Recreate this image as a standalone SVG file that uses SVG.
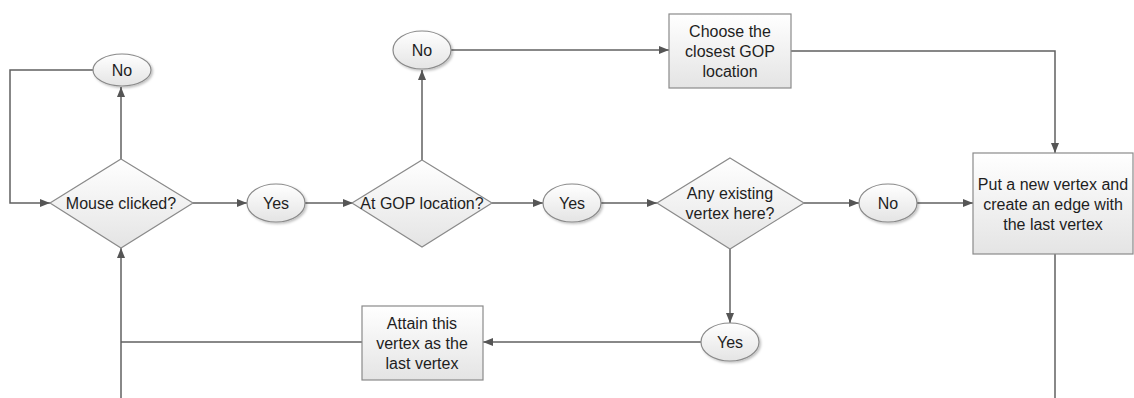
<svg xmlns="http://www.w3.org/2000/svg" width="1134" height="398" viewBox="0 0 1134 398">
  <style>
    .shape { fill: url(#fillGrad); stroke: #8a8a8a; stroke-width: 1.2; }
    .term { fill: url(#fillGrad); stroke: #8a8a8a; stroke-width: 1.2; filter: url(#shadow); }
    .label { font-family: "Liberation Sans", Arial, sans-serif; font-size: 16px; fill: #1e1e1e; text-anchor: middle; }
    .conn { fill: none; stroke: #606060; stroke-width: 1.5; }
  </style>
  <defs>
    <linearGradient id="fillGrad" x1="0" y1="0" x2="0" y2="1">
      <stop offset="0" stop-color="#ffffff"/>
      <stop offset="1" stop-color="#e4e4e4"/>
    </linearGradient>
    <filter id="shadow" x="-20%" y="-20%" width="150%" height="150%">
      <feDropShadow dx="1.5" dy="1.5" stdDeviation="1" flood-color="#000" flood-opacity="0.25"/>
    </filter>
    <marker id="arrow" markerWidth="10" markerHeight="8" refX="10" refY="4" orient="auto" markerUnits="userSpaceOnUse">
      <path d="M0,0 L10,4 L0,8 z" fill="#555555"/>
    </marker>
  </defs>

  <rect width="1134" height="398" fill="#ffffff"/>

  <!-- connectors -->
  <g id="connectors">
    <path class="conn" d="M121,159 V87" marker-end="url(#arrow)"/>
    <path class="conn" d="M93,70 H10 V203 H50" marker-end="url(#arrow)"/>
    <path class="conn" d="M193,203 H247" marker-end="url(#arrow)"/>
    <path class="conn" d="M305,203 H353" marker-end="url(#arrow)"/>
    <path class="conn" d="M422,160 V70" marker-end="url(#arrow)"/>
    <path class="conn" d="M451,50 H669" marker-end="url(#arrow)"/>
    <path class="conn" d="M791,51 H1055 V153" marker-end="url(#arrow)"/>
    <path class="conn" d="M492,203 H543" marker-end="url(#arrow)"/>
    <path class="conn" d="M601,203 H657" marker-end="url(#arrow)"/>
    <path class="conn" d="M804,203 H859" marker-end="url(#arrow)"/>
    <path class="conn" d="M917,203 H973" marker-end="url(#arrow)"/>
    <path class="conn" d="M730,249 V323" marker-end="url(#arrow)"/>
    <path class="conn" d="M701,342 H483" marker-end="url(#arrow)"/>
    <path class="conn" d="M362,342 H121"/>
    <path class="conn" d="M121,398 V248" marker-end="url(#arrow)"/>
    <path class="conn" d="M1055,254 V398"/>
  </g>

  <!-- decision: mouse clicked -->
  <g id="mouse-clicked">
    <polygon class="shape" points="121,159 193,203 121,248 50,203"/>
    <text class="label" x="121" y="209">Mouse clicked?</text>
  </g>

  <g id="no-click">
    <ellipse class="term" cx="122" cy="70" rx="29" ry="16"/>
    <text class="label" x="122" y="76">No</text>
  </g>

  <g id="yes-click">
    <ellipse class="term" cx="276" cy="203" rx="29" ry="19"/>
    <text class="label" x="276" y="209">Yes</text>
  </g>

  <!-- decision: at GOP location -->
  <g id="at-gop">
    <polygon class="shape" points="422,160 492,203 422,247 352,203"/>
    <text class="label" x="422" y="209">At GOP location?</text>
  </g>

  <g id="no-gop">
    <ellipse class="term" cx="422" cy="50" rx="29" ry="19"/>
    <text class="label" x="422" y="56">No</text>
  </g>

  <g id="choose-gop">
    <rect class="shape" x="669" y="14" width="122" height="74"/>
    <text class="label" x="730" y="37">Choose the</text>
    <text class="label" x="730" y="57">closest GOP</text>
    <text class="label" x="730" y="77">location</text>
  </g>

  <g id="yes-gop">
    <ellipse class="term" cx="572" cy="203" rx="29" ry="19"/>
    <text class="label" x="572" y="209">Yes</text>
  </g>

  <!-- decision: existing vertex -->
  <g id="existing-vertex">
    <polygon class="shape" points="730,158 804,203 730,249 657,203"/>
    <text class="label" x="730" y="199">Any existing</text>
    <text class="label" x="730" y="219">vertex here?</text>
  </g>

  <g id="no-vertex">
    <ellipse class="term" cx="888" cy="203" rx="29" ry="19"/>
    <text class="label" x="888" y="209">No</text>
  </g>

  <g id="new-vertex">
    <rect class="shape" x="973" y="153" width="160" height="101"/>
    <text class="label" x="1053" y="190">Put a new vertex and</text>
    <text class="label" x="1053" y="210">create an edge with</text>
    <text class="label" x="1053" y="230">the last vertex</text>
  </g>

  <g id="yes-vertex">
    <ellipse class="term" cx="730" cy="342" rx="29" ry="19"/>
    <text class="label" x="730" y="348">Yes</text>
  </g>

  <g id="attain-vertex">
    <rect class="shape" x="362" y="306" width="121" height="74"/>
    <text class="label" x="422" y="329">Attain this</text>
    <text class="label" x="422" y="349">vertex as the</text>
    <text class="label" x="422" y="369">last vertex</text>
  </g>
</svg>
